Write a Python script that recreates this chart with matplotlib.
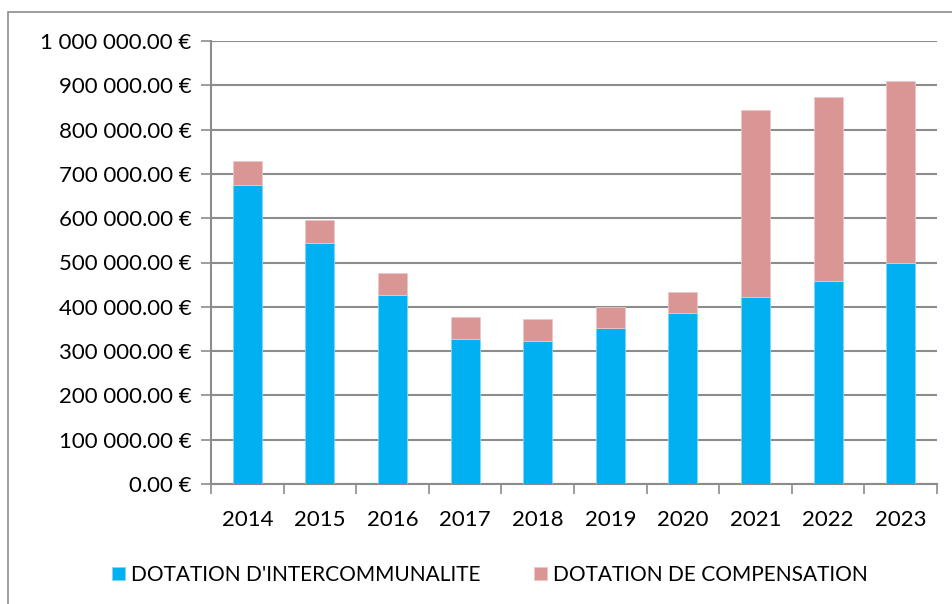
import matplotlib.pyplot as plt
import numpy as np
from matplotlib.patches import Rectangle
from matplotlib.ticker import FuncFormatter, FixedLocator

plt.rcParams['font.family'] = ['Lato', 'DejaVu Sans']

years = ['2014', '2015', '2016', '2017', '2018', '2019', '2020', '2021', '2022', '2023']
intercommunalite = [676000, 543000, 426000, 328000, 323000, 353000, 386000, 422000, 459000, 500000]
compensation = [53000, 52000, 50000, 50000, 49000, 47000, 47000, 423000, 414000, 410000]

fig = plt.figure(figsize=(9.52, 6.04), dpi=100)
ax = fig.add_axes([211 / 952, 1 - 484 / 604, (937 - 211) / 952, (484 - 41) / 604])

# outer chart frame (goes off the right and bottom edges)
fig.patches.append(Rectangle((8 / 952, -0.1), 1.2, 1 - 12 / 604 + 0.1,
                             transform=fig.transFigure, fill=False,
                             edgecolor='#8c8c8c', linewidth=1.2))

x = np.arange(len(years))
ax.bar(x, intercommunalite, width=0.4, color='#00B0F0', edgecolor='#7fd6f7',
       linewidth=0.6, label="DOTATION D'INTERCOMMUNALITE", zorder=3)
ax.bar(x, compensation, width=0.4, bottom=intercommunalite, color='#D99694',
       edgecolor='#ecc8c7', linewidth=0.6, label='DOTATION DE COMPENSATION', zorder=3)

ax.set_xlim(-0.5, len(years) - 0.5)
ax.set_ylim(0, 1000000)
ax.set_yticks(np.arange(0, 1000001, 100000))
ax.yaxis.set_major_formatter(FuncFormatter(lambda v, p: '{:,.2f} €'.format(v).replace(',', ' ')))
ax.yaxis.grid(True, color='#8c8c8c', linewidth=1.5, zorder=0)

ax.set_xticks(x)
ax.set_xticklabels(years)
ax.xaxis.set_minor_locator(FixedLocator(np.arange(-0.5, len(years), 1)))
ax.tick_params(axis='x', which='major', length=0, pad=19, labelsize=16)
ax.tick_params(axis='x', which='minor', length=7, color='#8c8c8c', width=1.2)
ax.tick_params(axis='y', length=7, color='#8c8c8c', width=1.2, labelsize=16, pad=7)

for s in ['top', 'right']:
    ax.spines[s].set_visible(False)
ax.spines['left'].set_color('#8c8c8c')
ax.spines['bottom'].set_color('#8c8c8c')
ax.spines['left'].set_linewidth(1.5)
ax.spines['bottom'].set_linewidth(1.5)

fig.legend(loc='center', bbox_to_anchor=(490 / 952, 1 - 575 / 604), ncol=2,
           frameon=False, fontsize=15, handlelength=0.6, handleheight=0.6,
           handletextpad=0.3, columnspacing=2.6)

fig.savefig('out.png', dpi=100)
